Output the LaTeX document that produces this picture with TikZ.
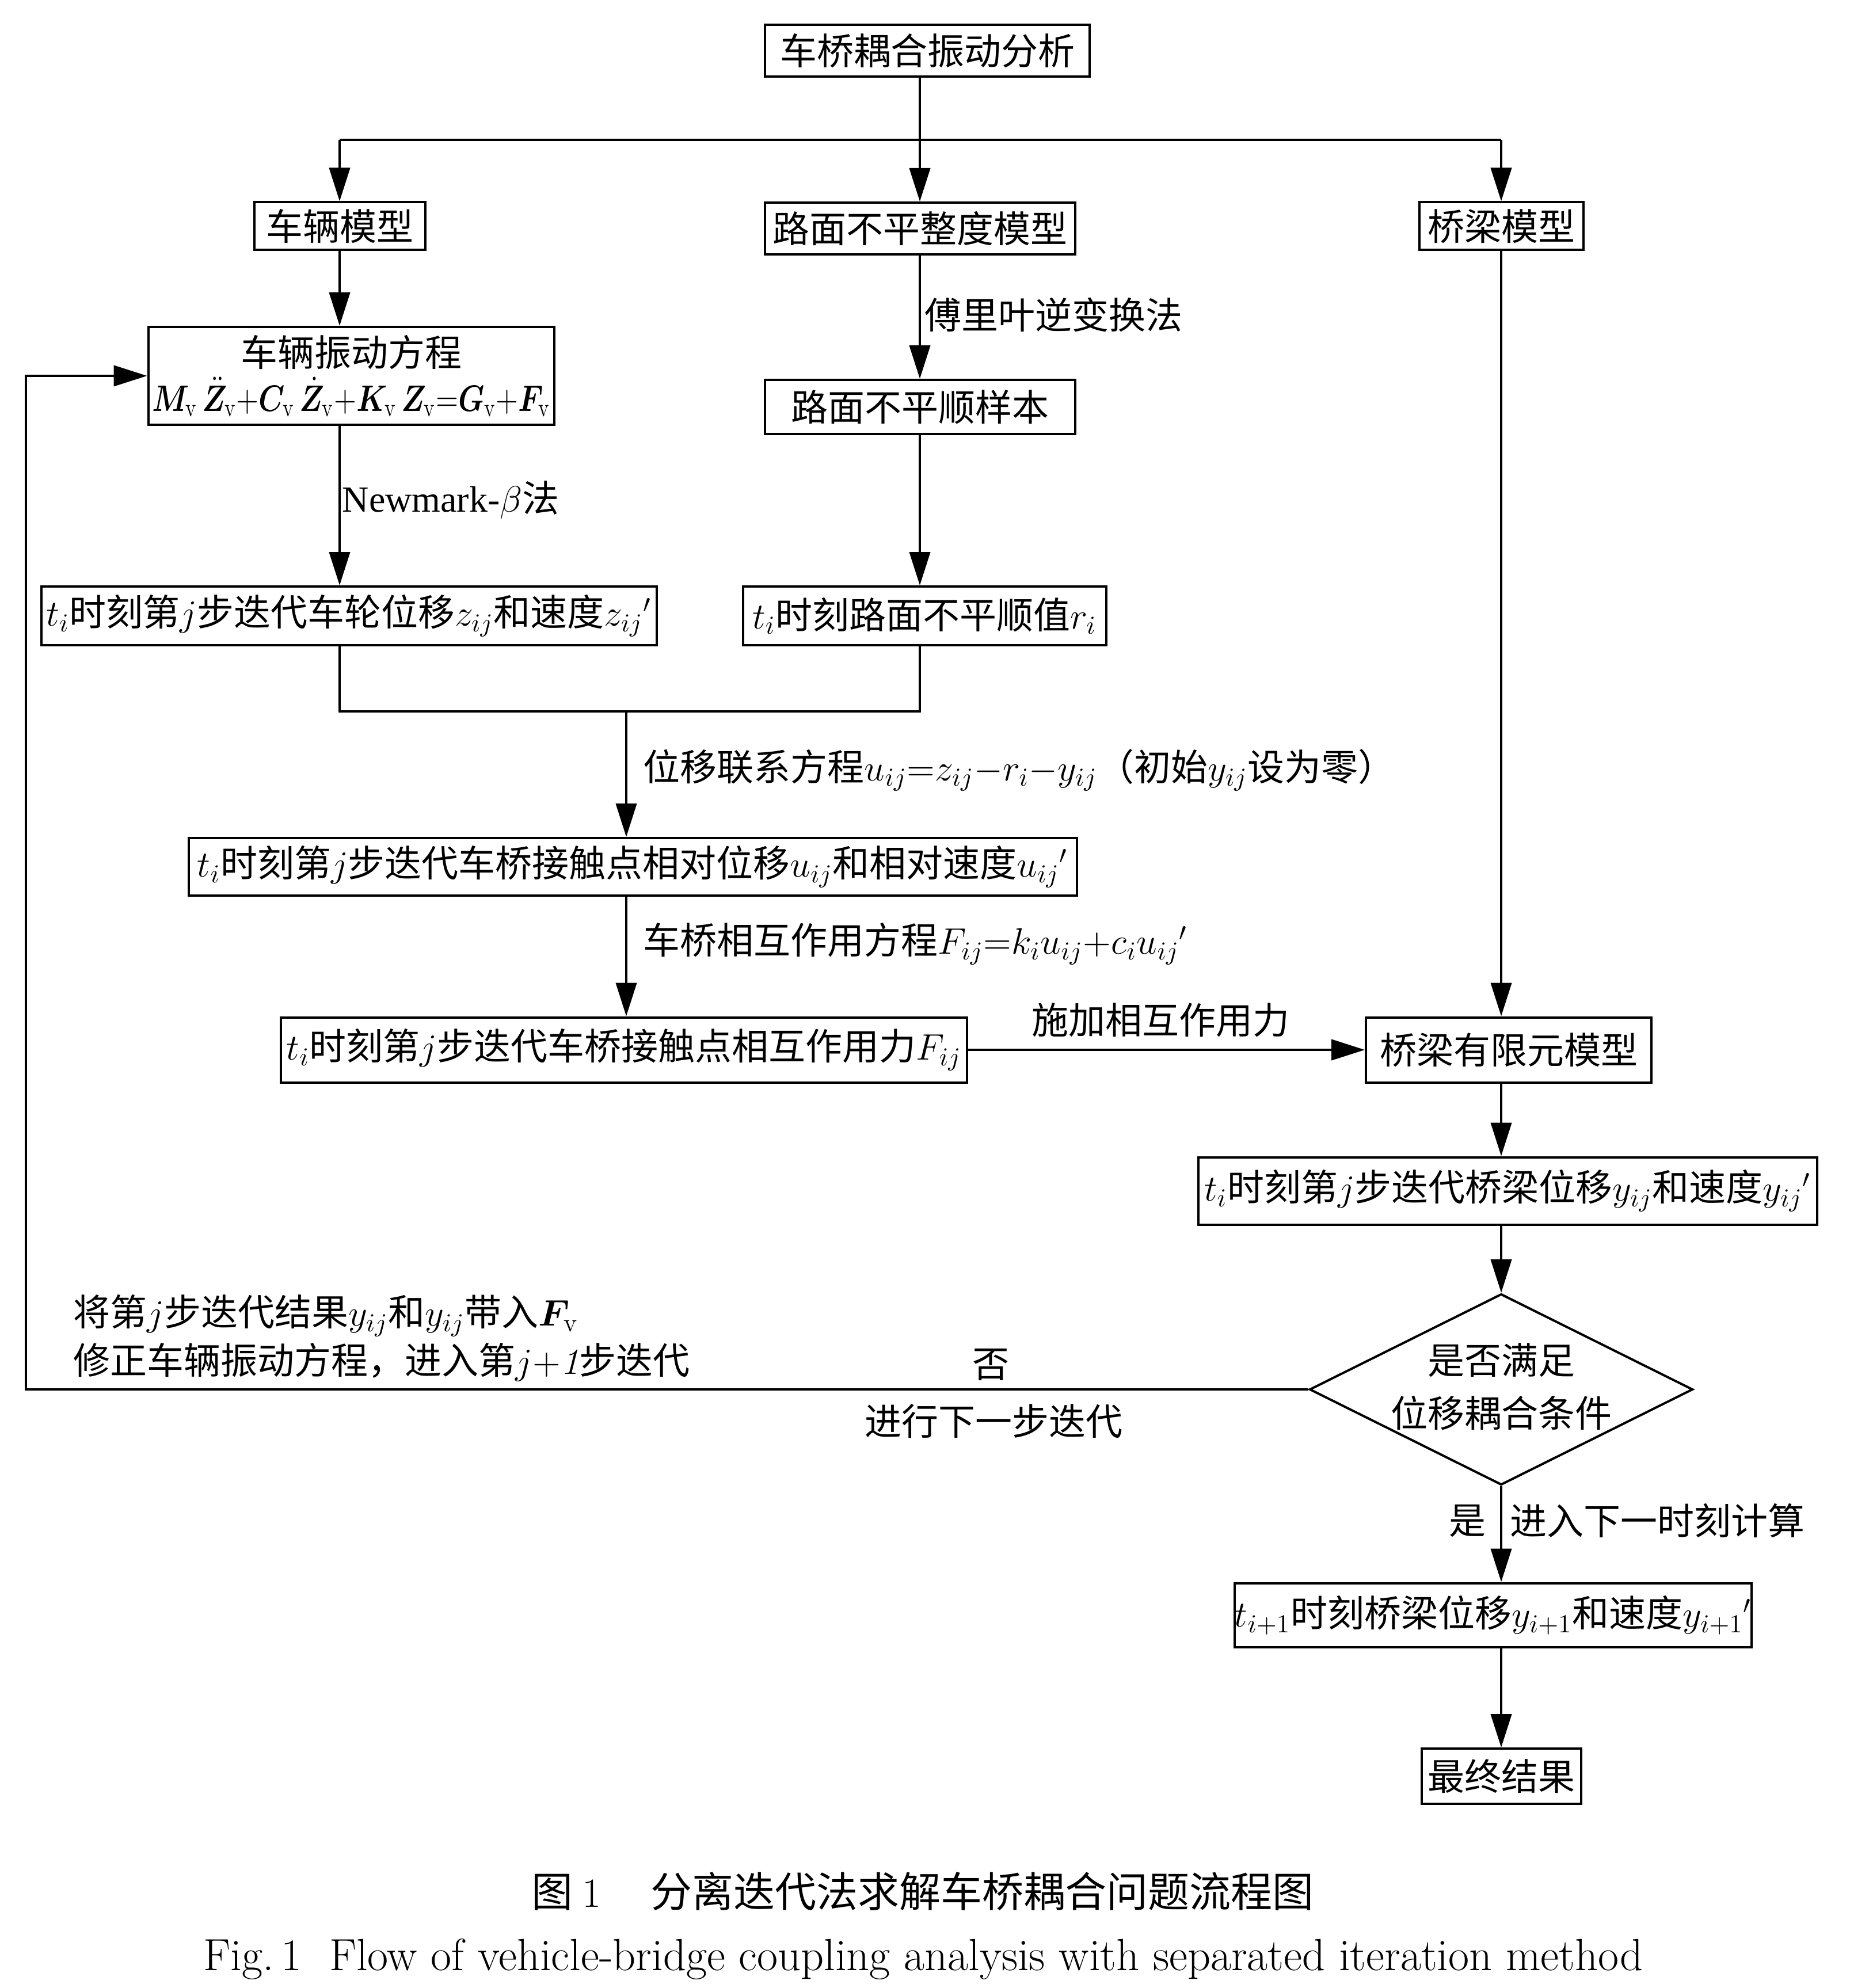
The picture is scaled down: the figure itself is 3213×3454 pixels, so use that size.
\RequirePackage{fix-cm}
\documentclass[tikz,border=0pt]{standalone}
\usepackage{fontspec}
\usepackage{amsmath,bm,graphicx}
\newfontfamily\zh{Noto Sans CJK SC}
\newfontfamily\tnr{Liberation Serif}
\usetikzlibrary{arrows.meta,shapes.geometric}
\tikzset{
  box/.style={draw, line width=1pt, inner sep=0pt, align=center, font=\fontsize{16}{19}\selectfont\zh},
  lbl/.style={inner sep=0pt, align=left, font=\fontsize{16}{21}\selectfont\zh},
  arr/.style={line width=1pt, -{Triangle[length=14.5pt,width=9pt]}},
  ln/.style={line width=1pt},
  diashape/.style={draw, diamond, line width=1pt, inner sep=0pt, minimum width=166.5pt, minimum height=83pt},
}
\begin{document}
\begin{tikzpicture}[x=0.25pt,y=-0.25pt]
\fill[white] (0,0) rectangle (3213,3454);
\useasboundingbox (0,0) rectangle (3213,3454);

% boxes
\node[box, minimum width=141pt, minimum height=22.5pt] (top) at (1611,88) {车桥耦合振动分析};
\node[box, minimum width=74.25pt, minimum height=20.75pt] (vm) at (590,393) {车辆模型};
\node[box, minimum width=134.75pt, minimum height=22.5pt] (rm) at (1598,397) {路面不平整度模型};
\node[box, minimum width=71.25pt, minimum height=20.75pt] (bm) at (2608,393) {桥梁模型};
\node[box, minimum width=176.25pt, minimum height=42.5pt, font=\fontsize{16}{19.5}\selectfont\zh] (ve) at (610,653) {车辆振动方程\\
  \scalebox{0.8}[1]{$\bm{M}_{\mathrm{v}}\,\ddot{\bm{Z}}_{\mathrm{v}}{+}\bm{C}_{\mathrm{v}}\,\dot{\bm{Z}}_{\mathrm{v}}{+}\bm{K}_{\mathrm{v}}\,\bm{Z}_{\mathrm{v}}{=}\bm{G}_{\mathrm{v}}{+}\bm{F}_{\mathrm{v}}$}};
\node[box, minimum width=134.75pt, minimum height=23.5pt] (rs) at (1598,707) {路面不平顺样本};
\node[box, minimum width=267.25pt, minimum height=25.5pt] (zw) at (606,1070) {$t_i$时刻第$j$步迭代车轮位移$z_{ij}$和速度$z_{ij}{}'$};
\node[box, minimum width=157.75pt, minimum height=25.5pt] (rv) at (1606,1070) {$t_i$时刻路面不平顺值$r_i$};
\node[box, minimum width=385.75pt, minimum height=25pt] (rel) at (1099,1506) {$t_i$时刻第$j$步迭代车桥接触点相对位移$u_{ij}$和相对速度$u_{ij}{}'$};
\node[box, minimum width=298pt, minimum height=28.25pt] (force) at (1084,1824) {$t_i$时刻第$j$步迭代车桥接触点相互作用力$F_{ij}$};
\node[box, minimum width=124pt, minimum height=28.25pt] (fe) at (2621,1824) {桥梁有限元模型};
\node[box, minimum width=268.75pt, minimum height=29.25pt] (by) at (2619,2069) {$t_i$时刻第$j$步迭代桥梁位移$y_{ij}$和速度$y_{ij}{}'$};
\node[diashape] (dia) at (2608,2414) {};
\node[inner sep=0pt, align=center, font=\fontsize{16}{23}\selectfont\zh] (diatxt) at (2608,2409) {是否满足\\位移耦合条件};
\node[box, minimum width=219.25pt, minimum height=27.75pt] (ty) at (2594,2806) {$t_{i+1}$时刻桥梁位移$y_{i+1}$和速度$y_{i+1}{}'$};
\node[box, minimum width=69.25pt, minimum height=24pt] (final) at (2608,3086) {最终结果};

% labels
\node[lbl, anchor=west] (fourier) at (1606,547) {傅里叶逆变换法};
\node[lbl, anchor=west] (newmark) at (594,869) {{\tnr Newmark-}$\beta$法};
\node[lbl, anchor=west] (dispeq) at (1117,1338) {位移联系方程$u_{ij}{=}z_{ij}{-}r_i{-}y_{ij}$（初始$y_{ij}$设为零）};
\node[lbl, anchor=west] (inteq) at (1117,1640) {车桥相互作用方程$F_{ij}{=}k_iu_{ij}{+}c_iu_{ij}{}'$};
\node[lbl] (apply) at (2016,1772) {施加相互作用力};
\node[lbl, anchor=west] (fbtxt) at (127,2325) {将第$j$步迭代结果$y_{ij}$和$y_{ij}$带入$\bm{F}_{\mathrm{v}}$\\修正车辆振动方程，进入第$j{+}\mathit{1}$步迭代};
\node[lbl] (no) at (1721,2371) {否};
\node[lbl] (nextit) at (1726,2469) {进行下一步迭代};
\node[lbl] (yes) at (2549,2642) {是};
\node[lbl, anchor=west] (nexttime) at (2623,2642) {进入下一时刻计算};

% captions
\node[inner sep=0pt, font=\fontsize{18}{20}\selectfont\zh] (cap1) at (1603,3286) {图~{\rmfamily 1}\hspace{1.2em}分离迭代法求解车桥耦合问题流程图};
\node[inner sep=0pt, font=\fontsize{19.6}{22}\selectfont\rmfamily] (cap2) at (1604,3404) {Fig.\,1\ \ Flow of vehicle-bridge coupling analysis with separated iteration method};

% connectors
\coordinate (split) at (1598,243);
\draw[ln] (top.south -| split) -- (split);
\draw[ln] (vm.north |- split) -- (bm.north |- split);
\draw[arr] (vm.north |- split) -- (vm.north);
\draw[arr] (split) -- (rm.north);
\draw[arr] (bm.north |- split) -- (bm.north);

\draw[arr] (vm.south) -- (vm.south |- ve.north);
\draw[arr] (vm.south |- ve.south) -- (vm.south |- zw.north);
\draw[arr] (rm.south) -- (rs.north);
\draw[arr] (rs.south) -- (rs.south |- rv.north);

\coordinate (join) at (1088,1236);
\draw[ln] (vm.south |- zw.south) |- (join) -| (rs.south |- rv.south);
\draw[arr] (join) -- (join |- rel.north);
\draw[arr] (join |- rel.south) -- (join |- force.north);
\draw[arr] (force.east) -- (fe.west);

\draw[arr] (bm.south) -- (bm.south |- fe.north);
\draw[arr] (bm.south |- fe.south) -- (bm.south |- by.north);
\draw[arr] (bm.south |- by.south) -- (dia.north);
\draw[arr] (dia.south) -- (dia.south |- ty.north);
\draw[arr] (dia.south |- ty.south) -- (final.north);

\coordinate (fb) at (45,2414);
\draw[arr] (dia.west) -- (fb) |- (ve.west);
\end{tikzpicture}
\end{document}
